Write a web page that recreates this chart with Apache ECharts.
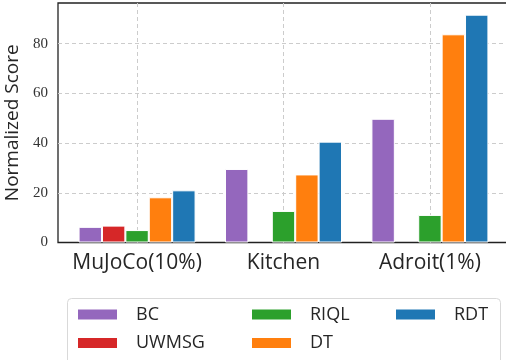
<!DOCTYPE html>
<html>
<head>
<meta charset="utf-8">
<script src="https://cdn.jsdelivr.net/npm/echarts@6/dist/echarts.min.js"></script>
<style>
  html, body { margin: 0; padding: 0; background: #fff; }
  #chart { width: 506px; height: 360px; }
</style>
</head>
<body>
<div id="chart"></div>
<script>
// Benchmark groups and per-method normalized scores (null = not reported)
const categories = ['MuJoCo(10%)', 'Kitchen', 'Adroit(1%)'];
const methods = ['BC', 'UWMSG', 'RIQL', 'DT', 'RDT'];
const bcScores    = [6.3, 29.6, 49.8];
const uwmsgScores = [6.8, null, null];
const riqlScores  = [5.0, 12.7, 11.1];
const dtScores    = [18.2, 27.4, 83.8];
const rdtScores   = [21.0, 40.6, 91.7];
const yTicks = [0, 20, 40, 60, 80];

const scoreTable = [bcScores, uwmsgScores, riqlScores, dtScores, rdtScores];
const colors = ['#9467bd', '#d62728', '#2ca02c', '#ff7f0e', '#1f77b4'];

const sansFont = '"Open Sans", sans-serif';
const serifFont = '"Liberation Serif", "DejaVu Serif", serif';
const positions = categories.map((_, i) => i);

const series = methods.map((name, k) => ({
  name: name,
  type: 'bar',
  barWidth: 23.4,
  barGap: '0%',
  itemStyle: { color: colors[k], borderColor: '#ffffff', borderWidth: 1 },
  data: positions.map(i => [i, scoreTable[k][i]])
}));

function legendBlock(names, left) {
  return {
    data: names,
    orient: 'vertical',
    left: left,
    top: 303.5,
    padding: 0,
    itemWidth: 41,
    itemHeight: 12,
    itemGap: 6.5,
    icon: 'rect',
    selectedMode: false,
    textStyle: {
      fontFamily: sansFont,
      fontSize: 18,
      lineHeight: 22,
      color: '#262626',
      padding: [0, 0, 0, 13]
    }
  };
}

const chart = echarts.init(document.getElementById('chart'), null, { renderer: 'canvas' });
chart.setOption({
  animation: false,
  backgroundColor: '#ffffff',
  grid: {
    left: 58, top: 3, width: 451, height: 239.5,
    outerBoundsMode: 'none',
    containLabel: false,
    show: true, borderColor: '#222222', borderWidth: 1.3,
    backgroundColor: 'transparent'
  },
  xAxis: {
    type: 'value',
    min: -0.54,
    max: 2.54,
    axisLine: { show: false },
    axisTick: { show: false, customValues: positions },
    axisLabel: {
      customValues: positions,
      formatter: v => categories[Math.round(v)] || '',
      fontFamily: sansFont,
      fontSize: 21,
      color: '#262626',
      margin: 10
    },
    splitLine: {
      show: true,
      lineStyle: { color: '#cccccc', type: [4, 3], width: 1 }
    }
  },
  yAxis: {
    type: 'value',
    min: 0,
    max: 96.4,
    interval: 20,
    name: 'Normalized Score',
    nameLocation: 'middle',
    nameRotate: 90,
    nameGap: 30,
    nameTextStyle: { fontFamily: sansFont, fontSize: 19, color: '#262626' },
    axisLine: { show: false },
    axisTick: { show: false },
    axisLabel: {
      fontFamily: serifFont,
      fontSize: 15,
      color: '#333333',
      margin: 10,
      showMaxLabel: false,
      formatter: v => (yTicks.indexOf(v) >= 0 ? String(v) : '')
    },
    splitLine: {
      show: true,
      showMinLine: false,
      showMaxLine: false,
      lineStyle: { color: '#cccccc', type: [4, 3], width: 1 }
    }
  },
  graphic: [{
    type: 'rect',
    left: 67, top: 298,
    shape: { width: 433, height: 80, r: 4 },
    style: { fill: '#ffffff', stroke: '#d9d9d9', lineWidth: 1 },
    z: -1,
    silent: true
  }],
  legend: [
    legendBlock(['BC', 'UWMSG'], 76),
    legendBlock(['RIQL', 'DT'], 250),
    legendBlock(['RDT'], 394)
  ],
  series: series
});
</script>
</body>
</html>
